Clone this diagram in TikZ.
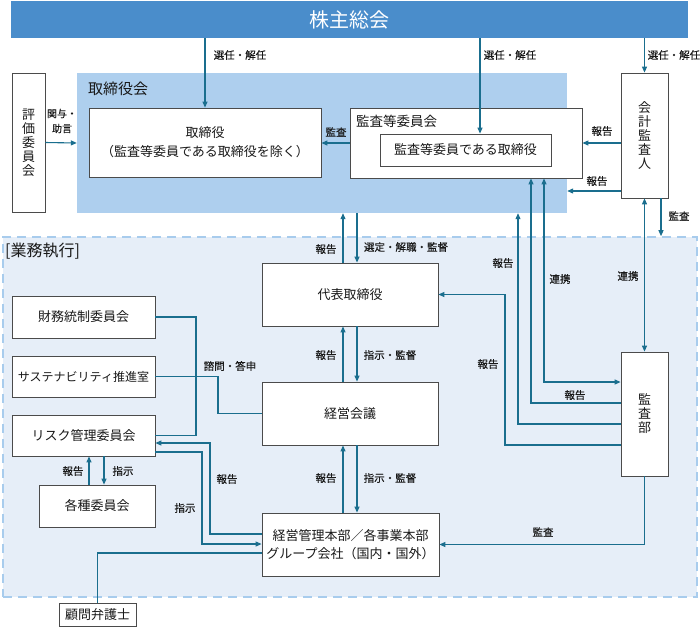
\documentclass[tikz,border=0pt]{standalone}
\usepackage{fontspec}
\setmainfont{Noto Sans CJK JP}
\newfontfamily\lblfont{Noto Sans CJK JP}[FakeBold=0.4]
\usetikzlibrary{arrows.meta}

\definecolor{barblue}{RGB}{74,141,203}
\definecolor{areablue}{RGB}{174,207,238}
\definecolor{execfill}{RGB}{230,238,248}
\definecolor{execline}{RGB}{168,204,237}
\definecolor{arrowc}{RGB}{26,110,142}
\definecolor{boxgray}{RGB}{75,75,75}

\begin{document}
\begin{tikzpicture}[
            x = 1pt, y = -1pt, % one unit per pixel, y downwards
            > = {Triangle[length=6pt,width=5pt]}, % arrow head style
            every edge/.style = {draw=arrowc, line width=1.1pt},
            conn/.style = {draw=arrowc, line width=1.1pt},
            box/.style = {draw=boxgray, fill=white, line width=0.8pt, inner sep=0pt,
                          align=center, text=black!90, font=\fontsize{13}{19}\selectfont},
            vbox/.style = {box, font=\fontsize{13}{14}\selectfont},
            lbl/.style = {inner sep=0pt, text=black!90, align=center,
                          font=\lblfont\fontsize{10.5}{15}\selectfont}
        ]
\useasboundingbox (0,0) rectangle (700,627);

% backgrounds
\node[fill=execfill, draw=execline, line width=1.6pt, dash pattern=on 9pt off 6pt,
      minimum width=694pt, minimum height=360pt] (exec) at (350,417) {};
\node[anchor=west, inner sep=0pt, text=black!90, font=\fontsize{16}{16}\selectfont] (execlbl) at (5,251) {[業務執行]};
\node[fill=areablue, minimum width=490pt, minimum height=140pt] (board) at (322,143) {};
\node[anchor=west, inner sep=0pt, text=black!90, font=\fontsize{15}{15}\selectfont] (boardlbl) at (88,89) {取締役会};
\node[fill=barblue, text=white, minimum width=677pt, minimum height=37pt,
      font=\fontsize{20}{20}\selectfont] (gm) at (349.5,19.5) {株主総会};

% boxes
\node[vbox, minimum width=33pt, minimum height=139pt] (hyouka) at (28.5,142.5) {評\\価\\委\\員\\会};
\node[box, minimum width=232pt, minimum height=69pt] (torishimari) at (205,142.5)
      {取締役\\（監査等委員である取締役を除く）};
\node[box, minimum width=232pt, minimum height=70pt] (kansaiin) at (466,143) {};
\node[anchor=west, inner sep=0pt, text=black!90, font=\fontsize{13.5}{14}\selectfont] (kansaiinlbl) at (356,121) {監査等委員会};
\node[box, minimum width=171pt, minimum height=32pt] (inner) at (465.5,150) {監査等委員である取締役};
\node[vbox, minimum width=47pt, minimum height=125pt] (kaikei) at (644.5,135.5) {会\\計\\監\\査\\人};

\node[box, minimum width=176pt, minimum height=63pt] (daihyo) at (350,294.5) {代表取締役};
\node[box, minimum width=176pt, minimum height=63pt] (keiei) at (350,413.5) {経営会議};
\node[box, minimum width=177pt, minimum height=63pt, font=\fontsize{13}{18}\selectfont] (honbu) at (350.5,544.5)
      {経営管理本部／各事業本部\\グループ会社（国内・国外）};
\node[vbox, minimum width=47pt, minimum height=124pt] (kansabu) at (644.5,414) {監\\査\\部};

\node[box, minimum width=143pt, minimum height=42pt] (zaimu) at (83.5,317) {財務統制委員会};
\node[box, minimum width=143pt, minimum height=41pt, font=\fontsize{12}{12}\selectfont] (sustain) at (83.5,376.5) {サステナビリティ推進室};
\node[box, minimum width=143pt, minimum height=41pt] (risk) at (83.5,435.5) {リスク管理委員会};
\node[box, minimum width=116pt, minimum height=42pt] (kakushu) at (97,506) {各種委員会};
\node[box, minimum width=77pt, minimum height=23pt] (komon) at (97.5,614.5) {顧問弁護士};

% shareholders and board
\path [->] (gm.south -| torishimari.north) edge (torishimari.north);
\path [->] (gm.south -| 480,0) edge (inner.north -| 480,0);
\path [->] (gm.south -| kaikei.north) edge (kaikei.north);
\path [->] (hyouka.east) edge (board.west);
\path [->] (kansaiin.west) edge (kansaiin.west -| torishimari.east);
\path [->] (kaikei.west |- kansaiin.east) edge (kansaiin.east);
\path [->] (kaikei.west |- 0,191) edge (board.east |- 0,191);
\path [->] (kaikei.south -| 661,0) edge (exec.north -| 661,0);
\path [<->] (kaikei.south) edge (kansabu.north);

% chain of command
\path [->] (daihyo.north -| 343,0) edge (board.south -| 343,0);
\path [->] (board.south -| 357,0) edge (daihyo.north -| 357,0);
\path [->] (keiei.north -| 343,0) edge (daihyo.south -| 343,0);
\path [->] (daihyo.south -| 357,0) edge (keiei.north -| 357,0);
\path [->] (honbu.north -| 343,0) edge (keiei.south -| 343,0);
\path [->] (keiei.south -| 357,0) edge (honbu.north -| 357,0);

% internal audit
\draw[conn, <->] (kansaiin.south -| 544,0) |- (kansabu.west |- 0,382);
\draw[conn, ->] (kansabu.west |- 0,403) -| (kansaiin.south -| 531,0);
\draw[conn, ->] (kansabu.west |- 0,424) -| (board.south -| 518,0);
\draw[conn, ->] (kansabu.west |- 0,445) -| (daihyo.east -| 505,0) -- (daihyo.east);
\draw[conn, ->] (kansabu.south) |- (honbu.east);

% committees
\draw[conn] (zaimu.east) -| (risk.east -| 196,0) -- (risk.east);
\draw[conn] (sustain.east) -| (keiei.west -| 218,0) -- (keiei.west);
\path [->] (kakushu.north -| 89,0) edge (risk.south -| 89,0);
\path [->] (risk.south -| 104,0) edge (kakushu.north -| 104,0);
\draw[conn, ->] (honbu.west |- 0,534) -- (210,534) |- (risk.east |- 0,443);
\draw[conn, ->] (risk.east |- 0,452) -| (202,544) -- (honbu.west |- 0,544);
\draw[conn] (komon.north) |- (honbu.west |- 0,553);

% labels
\node[lbl] (l1) at (240,55) {選任・解任};
\node[lbl] (l2) at (510,55) {選任・解任};
\node[lbl] (l3) at (674,55) {選任・解任};
\node[lbl, font=\lblfont\fontsize{10}{15}\selectfont] (l4) at (62,121) {関与・\\助言};
\node[lbl] (l5) at (336,132) {監査};
\node[lbl] (l6) at (602,131) {報告};
\node[lbl] (l7) at (597,181) {報告};
\node[lbl] (l8) at (679,216) {監査};
\node[lbl] (l9) at (326,249) {報告};
\node[lbl] (l10) at (406,247) {選定・解職・監督};
\node[lbl] (l11) at (503,263) {報告};
\node[lbl] (l12) at (560,279) {連携};
\node[lbl] (l13) at (628,276) {連携};
\node[lbl] (l14) at (326,355) {報告};
\node[lbl] (l15) at (390,355) {指示・監督};
\node[lbl] (l16) at (488,364) {報告};
\node[lbl] (l17) at (575,395) {報告};
\node[lbl] (l18) at (230,366) {諮問・答申};
\node[lbl] (l19) at (73,471) {報告};
\node[lbl] (l20) at (123,471) {指示};
\node[lbl] (l21) at (227,479) {報告};
\node[lbl] (l22) at (185,508) {指示};
\node[lbl] (l23) at (326,478) {報告};
\node[lbl] (l24) at (390,478) {指示・監督};
\node[lbl] (l25) at (543,532) {監査};
\end{tikzpicture}
\end{document}
